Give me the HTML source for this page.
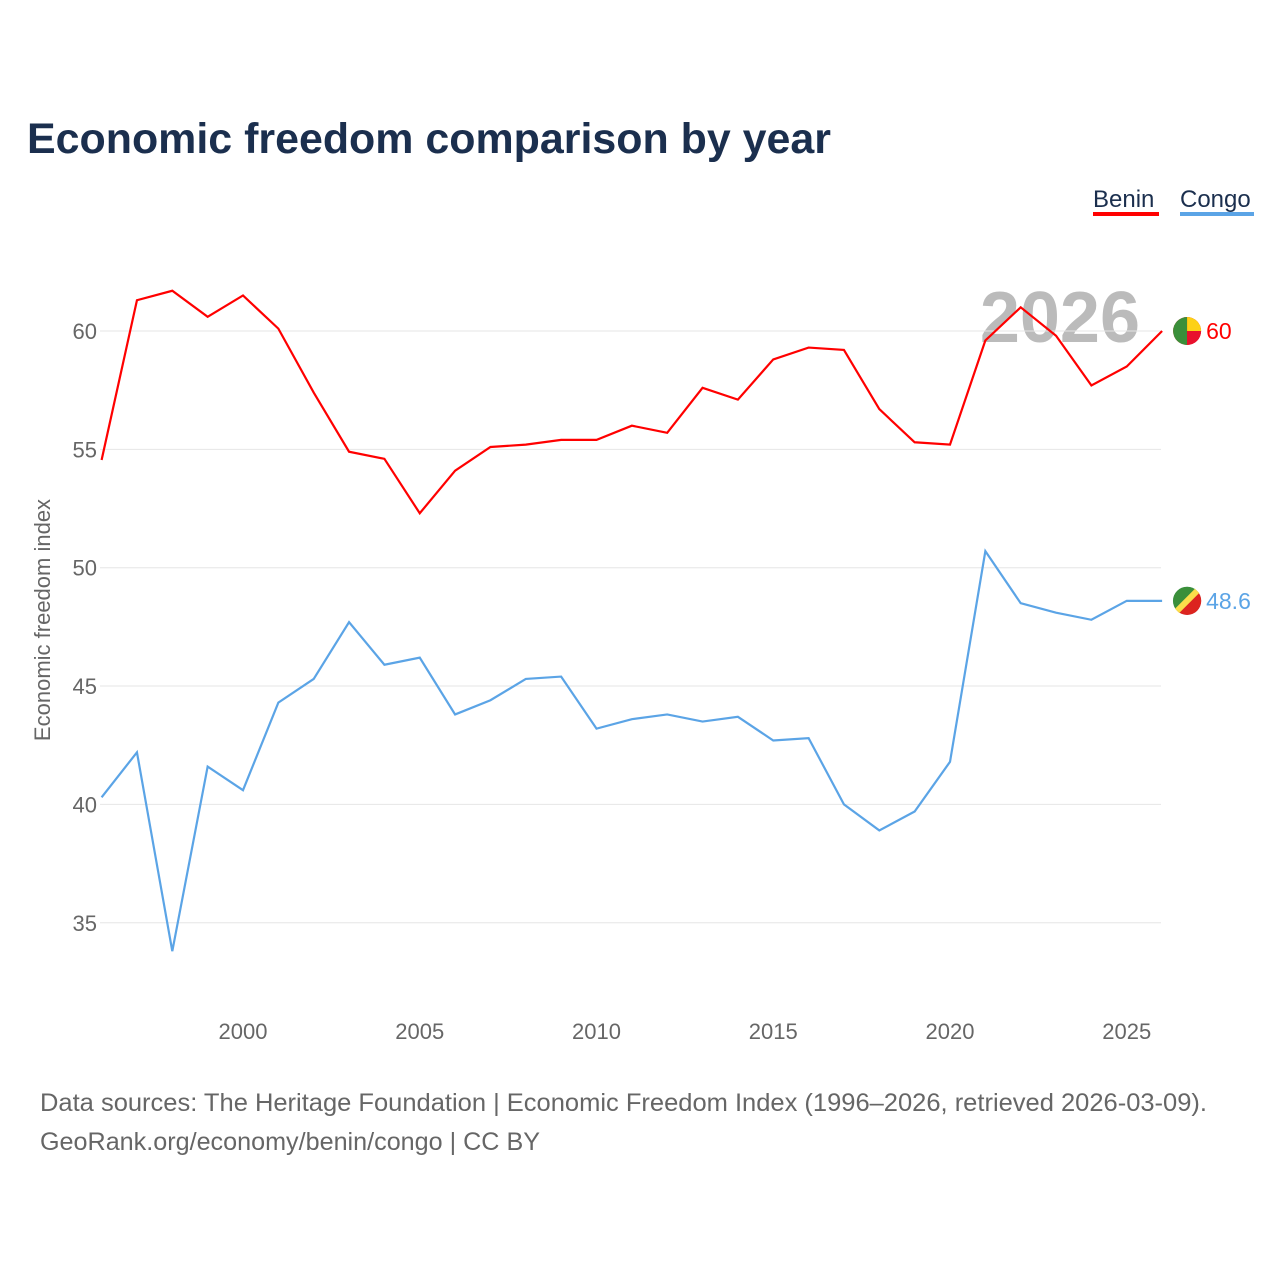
<!DOCTYPE html>
<html><head><meta charset="utf-8"><style>
body{margin:0;background:#fff;font-family:"Liberation Sans",sans-serif}
</style></head><body>
<svg id="chart" width="1280" height="1280" xmlns="http://www.w3.org/2000/svg" style="font-family:'Liberation Sans',sans-serif">
<text x="27" y="153" font-size="43" font-weight="bold" fill="#1b2f4e" textLength="804" lengthAdjust="spacingAndGlyphs">Economic freedom comparison by year</text>
<g>
<text x="1093" y="207" font-size="24" fill="#1b2f4e">Benin</text>
<rect x="1093" y="212" width="66" height="4" fill="#ff0000"/>
<text x="1180" y="207" font-size="24" fill="#1b2f4e">Congo</text>
<rect x="1180" y="212" width="74" height="4" fill="#5ba4e6"/>
</g>
<text x="1140" y="342" font-size="72" font-weight="bold" fill="#bbbbbb" text-anchor="end">2026</text>
<text transform="translate(50,620) rotate(-90)" font-size="22" fill="#666" text-anchor="middle">Economic freedom index</text>
<g id="grid"></g><g id="series"></g>
<text x="40" y="1111" font-size="25" fill="#666" textLength="1167" lengthAdjust="spacingAndGlyphs">Data sources: The Heritage Foundation | Economic Freedom Index (1996–2026, retrieved 2026-03-09).</text>
<text x="40" y="1150" font-size="25" fill="#666" textLength="500" lengthAdjust="spacingAndGlyphs">GeoRank.org/economy/benin/congo | CC BY</text>
</svg>
<script>
const years=[1996,1997,1998,1999,2000,2001,2002,2003,2004,2005,2006,2007,2008,2009,2010,2011,2012,2013,2014,2015,2016,2017,2018,2019,2020,2021,2022,2023,2024,2025,2026];
const benin=[54.55,61.3,61.7,60.6,61.5,60.1,57.4,54.9,54.6,52.3,54.1,55.1,55.2,55.4,55.4,56.0,55.7,57.6,57.1,58.8,59.3,59.2,56.7,55.3,55.2,59.6,61.0,59.8,57.7,58.5,60.0];
const congo=[40.3,42.2,33.8,41.6,40.6,44.3,45.3,47.7,45.9,46.2,43.8,44.4,45.3,45.4,43.2,43.6,43.8,43.5,43.7,42.7,42.8,40.0,38.9,39.7,41.8,50.7,48.5,48.1,47.8,48.6,48.6];
const yTicks=[35,40,45,50,55,60];
const xTicks=[2000,2005,2010,2015,2020,2025];
const NS="http://www.w3.org/2000/svg";
const x=v=>101.6+(v-1996)*35.35;
const y=v=>331+(60-v)*23.67;
function mk(t,a,p){const e=document.createElementNS(NS,t);for(const k in a)e.setAttribute(k,a[k]);p.appendChild(e);return e;}
const g=document.getElementById('grid');
yTicks.forEach(t=>{
 const l=mk('line',{x1:100,x2:1161,y1:y(t),y2:y(t),stroke:'#e6e6e6','stroke-width':1},g);
 
 
 const tx=mk('text',{x:97,y:y(t)+8,'font-size':22,fill:'#666','text-anchor':'end'},g);
 tx.textContent=t;
 
 
});
xTicks.forEach(t=>{
 const tx=mk('text',{x:x(t),y:1039,'font-size':22,fill:'#666','text-anchor':'middle'},g);
 tx.textContent=t;
 
 
});
const s=document.getElementById('series');
function line(vals,col,name,lab){
 const p=mk('polyline',{points:vals.map((v,i)=>x(years[i])+','+y(v)).join(' '),fill:'none',stroke:col,'stroke-width':2.2},s);
 
 
 const lv=vals[vals.length-1],cx=x(years[years.length-1])+25;
 const c=mk('circle',{cx:cx,cy:y(lv),r:14,fill:col},s);
 
 
 const t=mk('text',{x:cx+19,y:y(lv)+8,'font-size':23,fill:col},s);
 t.textContent=lab;
 
 
 return cx;
}
let bx=line(benin,'#ff0000','benin','60');
mk('path',{d:`M${bx},${y(60)-14} A14,14 0 0,0 ${bx},${y(60)+14} Z`,fill:'#3a8f3a'},s);
mk('path',{d:`M${bx},${y(60)-14} A14,14 0 0,1 ${bx+14},${y(60)} L${bx},${y(60)} Z`,fill:'#fcd116'},s);
mk('path',{d:`M${bx},${y(60)+14} A14,14 0 0,0 ${bx+14},${y(60)} L${bx},${y(60)} Z`,fill:'#e8112d'},s);
let cx=line(congo,'#5ba4e6','congo','48.6');
const cy=y(48.6);
mk('path',{d:`M${cx-10},${cy+10} A14,14 0 0,1 ${cx+10},${cy-10} Z`,fill:'#3a8f3a'},s);
mk('path',{d:`M${cx-10},${cy+10} A14,14 0 0,0 ${cx+10},${cy-10} Z`,fill:'#dc241f'},s);
mk('line',{x1:cx-10,y1:cy+10,x2:cx+10,y2:cy-10,stroke:'#fbde4a','stroke-width':6},s);
</script>
</body></html>
